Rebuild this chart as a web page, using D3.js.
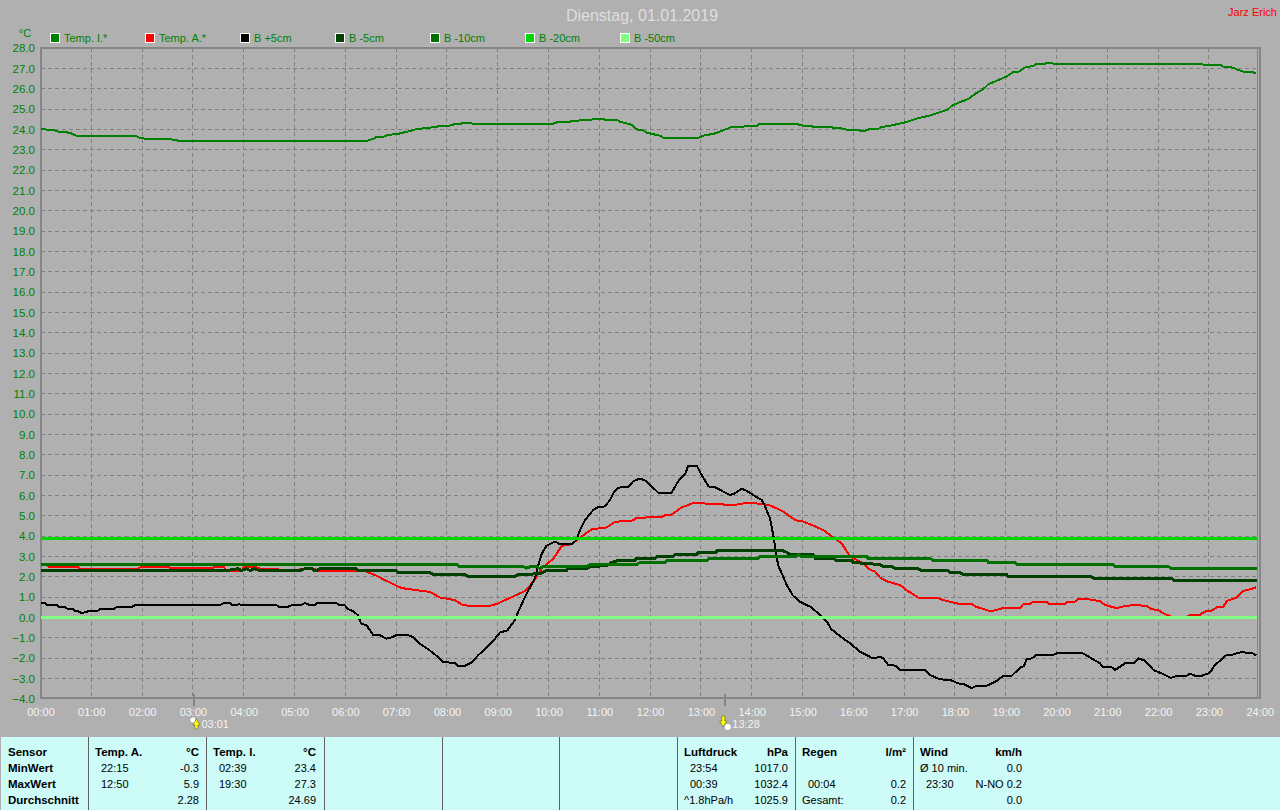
<!DOCTYPE html>
<html><head><meta charset="utf-8"><title>Dienstag, 01.01.2019</title>
<script src="https://cdn.jsdelivr.net/npm/d3@7"></script>
<style>
html,body{margin:0;padding:0;background:#b0b0b0;overflow:hidden}
svg{display:block}
text{font-family:"Liberation Sans",Arial,sans-serif;font-size:11px}
</style></head><body><svg id="c" width="1280" height="810"></svg>
<script>
// ---------- data ----------
const title = "Dienstag, 01.01.2019";
const author = "Jarz Erich";
const unit = "°C";
const yTicks = [28,27,26,25,24,23,22,21,20,19,18,17,16,15,14,13,12,11,10,9,8,7,6,5,4,3,2,1,0,-1,-2,-3,-4];
const hourTicks = [0,1,2,3,4,5,6,7,8,9,10,11,12,13,14,15,16,17,18,19,20,21,22,23,24];
const seriesNames = ["Temp. I.*","Temp. A.*","B +5cm","B -5cm","B -10cm","B -20cm","B -50cm"];
const seriesColors = ["#008000","#ff0000","#000000","#004000","#007000","#00d800","#80ff80"];
const seriesWidths = [2,2,2,3,3,3,3];

const tempIT = [0,.09,.12,.25,.35,.58,.68,.76,1.89,1.96,2.09,2.55,2.61,2.75,6.42,6.55,6.62,6.75,6.85,7.01,7.21,7.41,7.57,7.77,7.87,8.09,8.13,8.26,8.29,8.49,8.52,10,10.13,10.19,10.42,10.46,10.59,10.62,10.85,10.88,11.08,11.11,11.34,11.41,11.54,11.64,11.7,11.77,11.87,11.93,12.06,12.2,12.27,12.95,13.05,13.25,13.38,13.51,13.61,13.84,13.87,14.1,14.13,14.92,14.98,15.18,15.2,15.57,15.61,15.77,15.9,16.1,16.13,16.23,16.33,16.49,16.56,16.72,16.89,17.02,17.12,17.25,17.51,17.71,17.87,17.94,18.1,18.26,18.4,18.56,18.66,18.82,19.02,19.14,19.25,19.38,19.54,19.61,19.77,19.81,19.9,19.94,22.82,22.96,23.25,23.28,23.42,23.51,23.61,23.68,23.84,23.93];
const tempIV = [24.03,24.03,23.98,23.98,23.9,23.84,23.72,23.66,23.66,23.59,23.54,23.54,23.49,23.44,23.44,23.54,23.64,23.64,23.74,23.77,23.89,24.02,24.07,24.12,24.18,24.2,24.25,24.25,24.3,24.3,24.25,24.25,24.31,24.38,24.38,24.43,24.43,24.48,24.48,24.53,24.53,24.48,24.48,24.38,24.3,24.23,24.07,23.98,23.95,23.85,23.77,23.69,23.59,23.59,23.7,23.79,23.9,24.03,24.13,24.13,24.18,24.18,24.25,24.25,24.2,24.18,24.13,24.13,24.07,24.05,23.98,23.97,23.94,23.94,24.03,24.03,24.13,24.18,24.28,24.35,24.43,24.54,24.69,24.85,25,25.17,25.35,25.49,25.76,25.99,26.23,26.4,26.61,26.82,26.84,27.05,27.13,27.23,27.23,27.28,27.28,27.23,27.23,27.15,27.15,27.1,27.07,27,26.9,26.85,26.84,26.76];

const tempAT = [0,.12,.15,.74,.78,1.14,1.5,1.93,1.96,2.16,2.19,2.51,2.56,3.4,3.43,3.6,3.66,3.96,4,4.22,4.32,4.68,4.71,5.08,5.11,5.4,5.44,6.39,6.46,6.59,6.75,6.98,7.11,7.34,7.5,7.67,7.86,8.16,8.29,8.42,8.85,9.01,9.18,9.54,9.7,9.87,10.1,10.26,10.46,10.62,10.85,11.15,11.28,11.44,11.67,11.73,12.23,12.3,12.42,12.62,12.85,13.05,13.15,13.41,13.51,13.67,13.87,14.13,14.33,14.49,14.62,14.87,14.98,15.21,15.41,15.61,15.77,15.92,16.03,16.2,16.3,16.43,16.53,16.69,16.92,17.05,17.28,17.64,17.77,18.07,18.33,18.4,18.66,18.76,18.95,19.28,19.35,19.48,19.54,19.81,19.85,20.17,20.2,20.36,20.43,20.56,20.76,20.86,20.95,21.18,21.35,21.55,21.78,21.87,22,22.14,22.23,22.3,22.55,22.61,22.82,22.86,22.96,23.05,23.15,23.28,23.36,23.55,23.68,23.81,23.93];
const tempAV = [2.6,2.6,2.5,2.47,2.4,2.4,2.4,2.4,2.46,2.46,2.5,2.5,2.43,2.43,2.5,2.5,2.3,2.3,2.5,2.5,2.4,2.4,2.3,2.3,2.4,2.4,2.3,2.3,2.2,2.08,1.87,1.59,1.44,1.36,1.31,1.25,.98,.85,.64,.57,.57,.69,.89,1.3,1.75,2.41,2.9,3.52,3.6,3.93,4.33,4.43,4.66,4.74,4.77,4.89,4.95,5.03,5.05,5.41,5.62,5.62,5.57,5.57,5.52,5.54,5.62,5.6,5.54,5.36,5.2,4.77,4.75,4.52,4.3,3.93,3.64,3.07,2.87,2.66,2.38,2.25,1.95,1.75,1.59,1.34,.97,.97,.85,.67,.67,.54,.33,.33,.46,.46,.66,.66,.77,.77,.66,.66,.74,.77,.92,.92,.84,.8,.61,.46,.56,.61,.56,.41,.36,.15,.07,0,0,.1,.1,.2,.33,.33,.49,.52,.82,.98,1.3,1.38,1.48];

const bPlus5T = [0,.09,.12,.32,.38,.48,.55,.65,.68,.74,.82,.88,.94,1.11,1.17,1.43,1.5,1.79,1.86,3.53,3.61,3.73,3.78,3.86,3.91,3.96,4.65,4.71,4.85,4.94,5.11,5.21,5.31,5.4,5.44,5.83,5.88,5.99,6.06,6.16,6.25,6.31,6.42,6.55,6.68,6.81,6.91,7.01,7.24,7.34,7.5,7.63,7.8,7.93,8.16,8.22,8.36,8.49,8.62,8.75,8.91,9.04,9.19,9.34,9.39,9.54,9.73,9.8,9.87,9.96,10.1,10.16,10.21,10.46,10.55,10.62,10.72,10.88,10.98,11.11,11.21,11.28,11.37,11.57,11.67,11.77,11.83,11.93,12.16,12.42,12.56,12.69,12.75,12.92,12.98,13.15,13.26,13.41,13.57,13.67,13.8,13.9,14.03,14.2,14.26,14.36,14.43,14.46,14.52,14.62,14.69,14.81,14.95,15.18,15.38,15.48,15.57,15.84,15.94,16.13,16.39,16.53,16.59,16.69,16.84,16.92,17.41,17.51,17.71,17.9,18.07,18.17,18.33,18.43,18.63,18.82,18.95,19.12,19.28,19.36,19.41,19.51,19.61,19.94,20.04,20.5,20.69,20.86,20.91,21.09,21.15,21.35,21.53,21.61,21.74,21.91,22.1,22.25,22.37,22.56,22.63,22.73,22.86,23.02,23.12,23.25,23.35,23.45,23.65,23.74,23.84,23.93];
const bPlus5V = [.7,.7,.6,.6,.5,.5,.4,.4,.3,.3,.2,.26,.3,.3,.4,.4,.5,.5,.6,.6,.7,.7,.6,.6,.65,.6,.6,.5,.5,.6,.6,.7,.6,.6,.7,.7,.6,.6,.4,.3,.1,-.3,-.4,-.87,-.87,-1.05,-.98,-.87,-.87,-.98,-1.36,-1.56,-1.9,-2.21,-2.23,-2.38,-2.38,-2.21,-1.85,-1.56,-1.16,-.75,-.64,-.13,.2,1.02,1.92,2.57,3.15,3.52,3.7,3.7,3.6,3.6,3.8,4.3,4.79,5.28,5.43,5.46,5.77,6.13,6.38,6.43,6.7,6.8,6.8,6.7,6.13,6.13,6.72,7.05,7.46,7.46,7.16,6.44,6.43,6.23,6.02,6.1,6.33,6.23,6.02,5.77,5.48,4.87,3.97,3.48,2.57,2,1.59,1.08,.77,.49,.03,-.21,-.59,-1.11,-1.28,-1.69,-2.02,-1.93,-2.02,-2.34,-2.38,-2.59,-2.59,-2.84,-3.05,-3.07,-3.25,-3.28,-3.48,-3.36,-3.36,-3.13,-2.87,-2.87,-2.48,-2.39,-2.05,-2.02,-1.84,-1.84,-1.74,-1.74,-2.02,-2.26,-2.46,-2.46,-2.59,-2.26,-2.23,-2.02,-2.13,-2.59,-2.79,-2.98,-2.87,-2.87,-2.77,-2.87,-2.87,-2.72,-2.34,-2.07,-1.84,-1.84,-1.7,-1.74,-1.74,-1.87];

const bMinus5T = [0,3.66,3.89,3.96,4.05,4.13,4.2,4.32,5.11,5.21,5.34,5.4,5.44,5.5,6.2,6.26,7,7.04,7.67,7.73,8.36,8.42,9.34,9.39,9.83,9.96,10.36,10.37,10.75,10.82,11.15,11.24,11.37,11.7,11.72,12.1,12.14,12.46,12.49,12.92,12.95,13.3,13.32,14.59,14.69,14.75,15.21,15.25,15.61,15.67,15.97,16,16.2,16.53,16.59,16.76,16.82,17.28,17.33,17.87,17.9,18.1,18.17,19.02,19.05,20.69,20.74,22.27,22.33,23.95];
const bMinus5V = [2.3,2.3,2.4,2.3,2.4,2.3,2.4,2.3,2.3,2.4,2.4,2.3,2.3,2.4,2.4,2.3,2.3,2.2,2.2,2.1,2.1,2,2,2.1,2.15,2.3,2.3,2.4,2.4,2.5,2.55,2.7,2.8,2.8,2.9,2.9,3,3,3.1,3.1,3.2,3.2,3.3,3.3,3.2,3.1,3.1,2.9,2.9,2.8,2.8,2.7,2.66,2.6,2.5,2.5,2.4,2.4,2.3,2.3,2.2,2.2,2.1,2.1,2,2,1.9,1.9,1.8,1.8];

const bMinus10T = [0,8.19,8.24,9.5,9.57,9.64,9.77,9.82,9.9,10.75,10.82,11.73,11.8,12.29,12.34,13.11,13.17,14.13,14.16,14.88,14.92,14.98,16.26,16.3,17.51,17.58,18.63,18.66,19.18,19.22,21.12,21.15,22.2,22.27,23.95];
const bMinus10V = [2.6,2.6,2.5,2.5,2.42,2.5,2.5,2.42,2.5,2.5,2.6,2.6,2.7,2.7,2.8,2.8,2.9,2.9,3,3,3.1,3,3,2.9,2.9,2.8,2.8,2.7,2.7,2.6,2.6,2.5,2.5,2.4,2.4];

const bMinus20T = [0,23.95];
const bMinus20V = [3.89,3.89];
const bMinus50T = [0,23.95];
const bMinus50V = [0,0];

const sunriseHour = 3.02, sunriseLabel = "03:01";
const sunsetHour = 13.47, sunsetLabel = "13:28";
const currentHour = 23.95;

const tableDividers = [1,2,3,4,5,6,7,8];
const table = [
 {col:"sensor",dx:8,anchor:"start",bold:true,rows:["Sensor","MinWert","MaxWert","Durchschnitt"]},
 {col:"a1",dx:95,anchor:"start",boldFirst:true,rows:["Temp. A.","22:15","12:50",""],indent:[0,6,6,0]},
 {col:"a2",dx:199,anchor:"end",boldFirst:true,rows:["°C","-0.3","5.9","2.28"]},
 {col:"i1",dx:213,anchor:"start",boldFirst:true,rows:["Temp. I.","02:39","19:30",""],indent:[0,6,6,0]},
 {col:"i2",dx:316,anchor:"end",boldFirst:true,rows:["°C","23.4","27.3","24.69"]},
 {col:"p1",dx:684,anchor:"start",boldFirst:true,rows:["Luftdruck","23:54","00:39","^1.8hPa/h"],indent:[0,6,6,0]},
 {col:"p2",dx:788,anchor:"end",boldFirst:true,rows:["hPa","1017.0","1032.4","1025.9"]},
 {col:"r1",dx:802,anchor:"start",boldFirst:true,rows:["Regen","","00:04","Gesamt:"],indent:[0,6,6,0]},
 {col:"r2",dx:906,anchor:"end",boldFirst:true,rows:["l/m²","","0.2","0.2"]},
 {col:"w1",dx:920,anchor:"start",boldFirst:true,rows:["Wind","Ø 10 min.","23:30",""],indent:[0,0,6,0]},
 {col:"w2",dx:1022,anchor:"end",boldFirst:true,rows:["km/h","0.0","N-NO 0.2","0.0"]}
];
const seriesT = [tempIT,tempAT,bPlus5T,bMinus5T,bMinus10T,bMinus20T,bMinus50T];
const seriesV = [tempIV,tempAV,bPlus5V,bMinus5V,bMinus10V,bMinus20V,bMinus50V];

// ---------- drawing ----------
const svg = d3.select("#c");
const x = d3.scaleLinear().domain([0,24]).range([40.5,1259.7]);
const y = d3.scaleLinear().domain([28,-4]).range([48.2,698.7]);
const snap = v => Math.floor(v)+.5;
const gridColor = "#808080", frameColor = "#858585", labelGreen = "#008000";
const frameTop = y(28), frameBottom = y(-4)-1;

svg.append("rect").attr("width",1280).attr("height",810).attr("fill","#b0b0b0");

// title
svg.append("text").attr("x",642).attr("y",21).attr("text-anchor","middle").attr("fill","#dedede")
  .style("font-size","16px").text(title);
svg.append("text").attr("x",1277).attr("y",16).attr("text-anchor","end").attr("fill","#ff0000").text(author);
svg.append("text").attr("x",25).attr("y",37).attr("text-anchor","middle").attr("fill",labelGreen).text(unit);

// legend
const legendX = d3.scaleLinear().domain([0,1]).range([50,145]);
const legend = svg.append("g").selectAll("g").data(seriesNames).join("g")
  .attr("transform",(d,i)=>`translate(${legendX(i)},33)`);
legend.append("rect").attr("x",.5).attr("y",.5).attr("width",9).attr("height",9)
  .attr("fill",(d,i)=>seriesColors[i]).attr("stroke","#fff").attr("shape-rendering","crispEdges");
legend.append("text").attr("x",14).attr("y",9).attr("fill",labelGreen).text(d=>d);

// grid
const grid = svg.append("g").attr("stroke",gridColor).attr("stroke-dasharray","4 3").attr("shape-rendering","crispEdges");
grid.selectAll(".h").data(yTicks.slice(1,-1)).join("line")
  .attr("x1",x(0)).attr("x2",x(24)).attr("y1",d=>snap(y(d))).attr("y2",d=>snap(y(d)));
grid.selectAll(".v").data(hourTicks.slice(1,-1)).join("line")
  .attr("y1",frameTop).attr("y2",frameBottom).attr("x1",d=>snap(x(d))).attr("x2",d=>snap(x(d)));

// axis labels through d3 axes
const yAxis = svg.append("g").attr("transform",`translate(${x(0)-5.5},0)`)
  .call(d3.axisLeft(y).tickValues(yTicks).tickSize(0).tickPadding(0).tickFormat(d3.format(".1f")));
yAxis.select(".domain").remove();
yAxis.selectAll("text").attr("fill",labelGreen).style("font-size","11.5px");
const hourFmt = h => String(h).padStart(2,"0")+":00";
const xAxis = svg.append("g").attr("transform",`translate(0,708)`)
  .call(d3.axisBottom(x).tickValues(hourTicks).tickSize(0).tickPadding(0).tickFormat(hourFmt));
xAxis.select(".domain").remove();
xAxis.selectAll("text").attr("fill","#f4f4f4").style("font-size","11px");

// frame
svg.append("rect").attr("x",x(0)).attr("y",frameTop).attr("width",x(24)-x(0)).attr("height",frameBottom-frameTop)
  .attr("fill","none").attr("stroke",frameColor).attr("stroke-width",2).attr("shape-rendering","crispEdges");
svg.append("line").attr("x1",snap(x(currentHour))).attr("x2",snap(x(currentHour))).attr("y1",frameTop).attr("y2",frameBottom)
  .attr("stroke",frameColor).attr("shape-rendering","crispEdges");

// series
const line = d3.line().x(d=>x(d[0])).y(d=>y(d[1])).curve(d3.curveLinear);
svg.append("g").attr("fill","none").attr("stroke-linejoin","round").attr("shape-rendering","crispEdges")
  .selectAll("path").data(seriesNames).join("path")
  .attr("d",(d,i)=>line(d3.zip(seriesT[i],seriesV[i])))
  .attr("stroke",(d,i)=>seriesColors[i]).attr("stroke-width",(d,i)=>seriesWidths[i]);

// sunrise / sunset markers
[[sunriseHour,sunriseLabel,true],[sunsetHour,sunsetLabel,false]].forEach(([h,lab,rise])=>{
  const px = x(h);
  svg.append("line").attr("x1",px).attr("x2",px).attr("y1",frameBottom-4).attr("y2",706)
     .attr("stroke",frameColor).attr("stroke-width",2).attr("shape-rendering","crispEdges");
  const g = svg.append("g").attr("transform",`translate(${px},0)`);
  g.append("circle").attr("cx",rise?-1:3).attr("cy",rise?720:727).attr("r",3)
    .attr("fill","#fff").attr("stroke",rise?"#4040a0":"#fff").attr("stroke-width",rise?.7:0).attr("stroke-dasharray","1 1");
  g.append("path").attr("d",rise?"M2.5,719L6,725H4V729H1V725H-1Z":"M-1.5,727L-5,721H-3V716H0V721H2Z")
    .attr("fill","#ffff00").attr("stroke","#303000").attr("stroke-width",.4);
  g.append("text").attr("x",7.5).attr("y",727.5).attr("fill","#f4f4f4").text(lab);
});

// table panel
svg.append("rect").attr("x",1).attr("y",737).attr("width",1279).attr("height",73).attr("fill","#ccfbf8");
const dividerX = d3.scaleLinear().domain([1,8]).range([88,913]);
svg.append("g").selectAll("line").data(tableDividers).join("line")
  .attr("x1",d=>Math.round(dividerX(d))+.5).attr("x2",d=>Math.round(dividerX(d))+.5).attr("y1",737).attr("y2",810)
  .attr("stroke","#606060").attr("stroke-width",1).attr("shape-rendering","crispEdges");
const rowY = d3.scaleLinear().domain([0,3]).range([756,804]);
table.forEach(c=>{
  svg.append("g").selectAll("text").data(c.rows).join("text")
    .attr("x",(d,i)=>c.dx+(c.indent?c.indent[i]:0)).attr("y",(d,i)=>rowY(i))
    .attr("text-anchor",c.anchor).attr("fill","#000")
    .style("font-weight",(d,i)=>(c.bold||(c.boldFirst&&i===0))?"bold":"normal")
    .style("font-size",(d,i)=>(c.bold||(c.boldFirst&&i===0))?"11.5px":"11px")
    .text(d=>d);
});
</script></body></html>
